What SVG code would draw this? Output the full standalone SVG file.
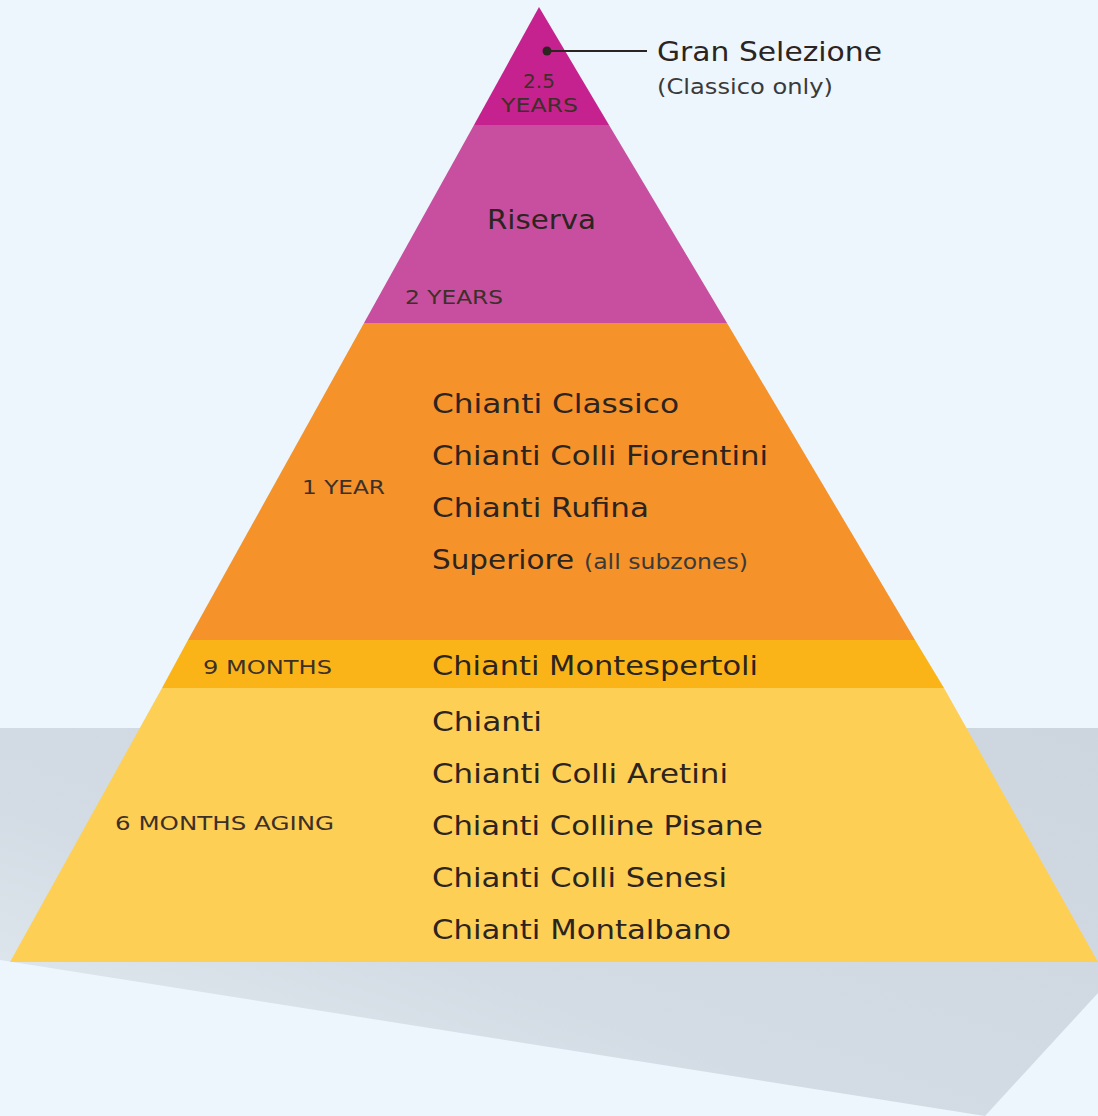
<svg xmlns="http://www.w3.org/2000/svg" width="1098" height="1116" viewBox="0 0 1098 1116">
  <defs>
    <linearGradient id="floor" x1="1" y1="0" x2="0" y2="1">
      <stop offset="0" stop-color="#cdd6df"/>
      <stop offset="0.6" stop-color="#d3dce4"/>
      <stop offset="1" stop-color="#e6eef4"/>
    </linearGradient>
    <style>
      .name { font-family: "DejaVu Sans", "Noto Sans", sans-serif; font-size: 27px; fill: #2b2420; }
      .age { font-family: "DejaVu Sans", "Noto Sans", sans-serif; font-size: 20px; fill: #3d3029; }
      .note { font-family: "DejaVu Sans", "Noto Sans", sans-serif; font-size: 21px; fill: #3a3a3a; }
    </style>
  </defs>

  <!-- background and floor shadow -->
  <rect x="0" y="0" width="1098" height="1116" fill="#edf6fc"/>
  <polygon points="0,728 1098,728 1098,993 985,1116 0,960" fill="url(#floor)"/>

  <!-- pyramid tiers -->
  <g id="tier-gran-selezione">
    <polygon points="539,7 609,125 474,125" fill="#c6228f"/>
    <text class="age" x="539" y="88" text-anchor="middle">2.5</text>
    <text class="age" x="501" y="112" textLength="77" lengthAdjust="spacingAndGlyphs">YEARS</text>
  </g>
  <g id="tier-riserva">
    <polygon points="474,125 609,125 727,323 364,323" fill="#c84e9f"/>
    <text class="name" x="487" y="229" textLength="109" lengthAdjust="spacingAndGlyphs">Riserva</text>
    <text class="age" x="405" y="304" textLength="98" lengthAdjust="spacingAndGlyphs">2 YEARS</text>
  </g>
  <g id="tier-one-year">
    <polygon points="364,323 727,323 915,640 188,640" fill="#f59229"/>
    <text class="age" x="302" y="494" textLength="83" lengthAdjust="spacingAndGlyphs">1 YEAR</text>
    <text class="name" x="432" y="413" textLength="247" lengthAdjust="spacingAndGlyphs">Chianti Classico</text>
    <text class="name" x="432" y="465" textLength="336" lengthAdjust="spacingAndGlyphs">Chianti Colli Fiorentini</text>
    <text class="name" x="432" y="517" textLength="217" lengthAdjust="spacingAndGlyphs">Chianti Rufina</text>
    <text class="name" x="432" y="569" textLength="142" lengthAdjust="spacingAndGlyphs">Superiore</text>
    <text class="note" x="584" y="569" textLength="164" lengthAdjust="spacingAndGlyphs">(all subzones)</text>
  </g>
  <g id="tier-nine-months">
    <polygon points="188,640 915,640 944,688 162,688" fill="#fbb418"/>
    <text class="age" x="203" y="674" textLength="129" lengthAdjust="spacingAndGlyphs">9 MONTHS</text>
    <text class="name" x="432" y="675" textLength="326" lengthAdjust="spacingAndGlyphs">Chianti Montespertoli</text>
  </g>
  <g id="tier-six-months">
    <polygon points="162,688 944,688 1098,962 10,962" fill="#fecf55"/>
    <text class="age" x="115" y="830" textLength="219" lengthAdjust="spacingAndGlyphs">6 MONTHS AGING</text>
    <text class="name" x="432" y="731" textLength="110" lengthAdjust="spacingAndGlyphs">Chianti</text>
    <text class="name" x="432" y="783" textLength="296" lengthAdjust="spacingAndGlyphs">Chianti Colli Aretini</text>
    <text class="name" x="432" y="835" textLength="331" lengthAdjust="spacingAndGlyphs">Chianti Colline Pisane</text>
    <text class="name" x="432" y="887" textLength="295" lengthAdjust="spacingAndGlyphs">Chianti Colli Senesi</text>
    <text class="name" x="432" y="939" textLength="299" lengthAdjust="spacingAndGlyphs">Chianti Montalbano</text>
  </g>

  <!-- callout for the top tier -->
  <g id="connectors">
    <line x1="547" y1="51" x2="647" y2="51" stroke="#2b2420" stroke-width="2"/>
    <circle cx="547" cy="51" r="4.5" fill="#2b2420"/>
  </g>
  <g id="label-gran-selezione">
    <text class="name" x="657" y="61" textLength="225" lengthAdjust="spacingAndGlyphs">Gran Selezione</text>
    <text class="note" x="657" y="94" textLength="176" lengthAdjust="spacingAndGlyphs">(Classico only)</text>
  </g>
</svg>
